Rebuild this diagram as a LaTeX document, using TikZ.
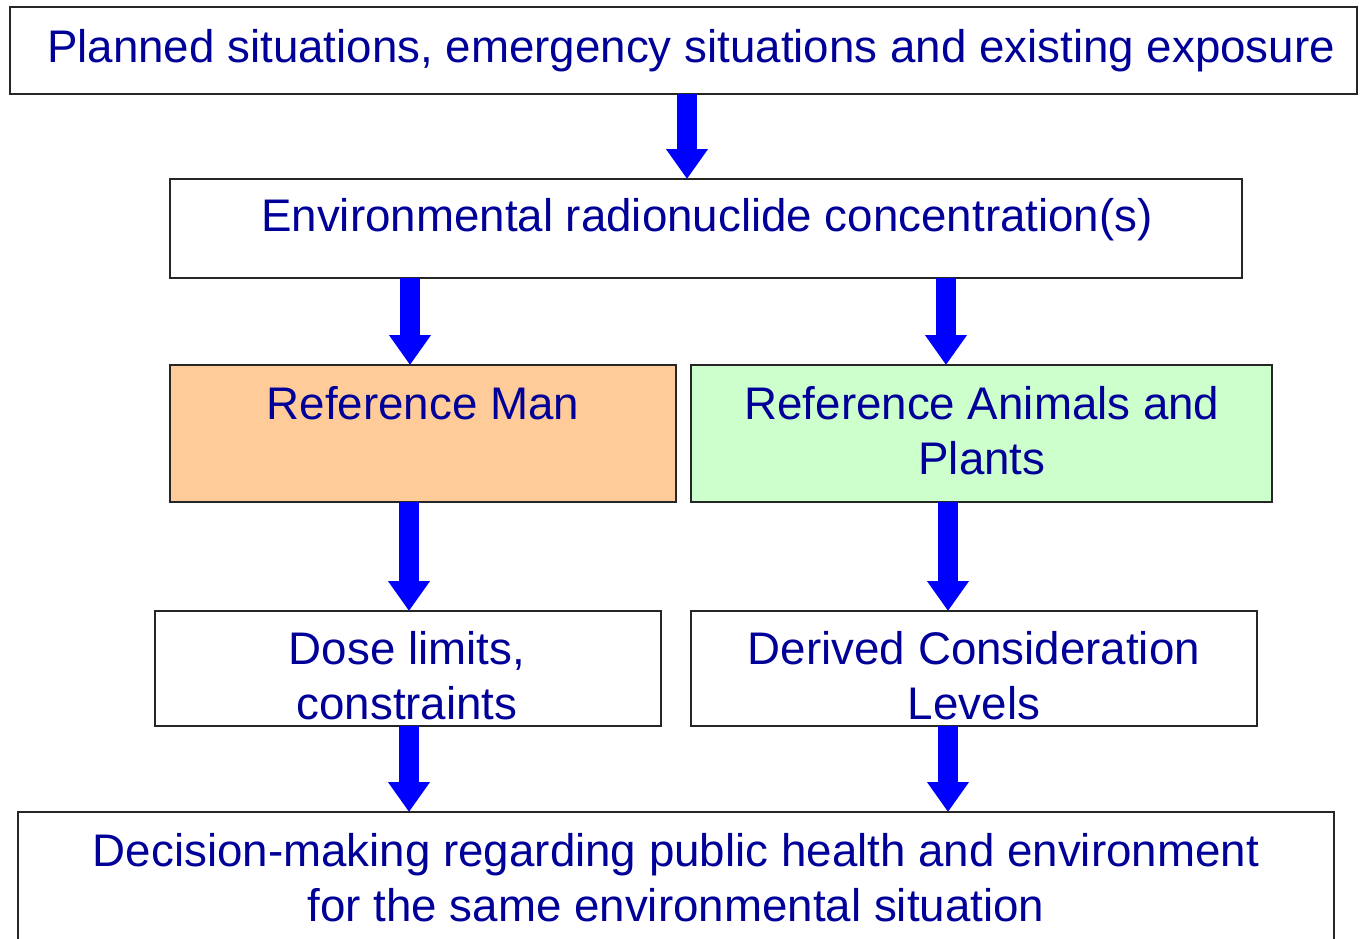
\documentclass[tikz,border=0pt]{standalone}
\usepackage{fontspec}
\setmainfont{Liberation Sans}
\usetikzlibrary{arrows.meta}
\definecolor{txtblue}{RGB}{0,0,153}
\definecolor{arrblue}{RGB}{0,0,255}
\definecolor{peach}{RGB}{255,204,153}
\definecolor{mint}{RGB}{204,255,204}
\tikzset{
  box/.style={draw=black!85, line width=0.75pt, inner sep=0pt, outer sep=0pt, rectangle},
  txt/.style={anchor=base, inner sep=0pt, text=txtblue, font=\fontsize{22.85}{27.5}\selectfont},
  barrow/.style={draw=arrblue, line width=10pt, -{Triangle[width=20pt,length=15pt]}, arrblue},
}
\begin{document}
\begin{tikzpicture}[x=0.5pt,y=-0.5pt]
\useasboundingbox (0,0) rectangle (1360,938);
\clip (0,0) rectangle (1360,938);
% boxes
\node[box, minimum width=673.5pt, minimum height=43.5pt] (top) at (683.5,50.5) {};
\node[box, minimum width=536pt, minimum height=49.5pt] (env) at (706,228.5) {};
\node[box, fill=peach, minimum width=253pt, minimum height=68.5pt] (man) at (423,433.5) {};
\node[box, fill=mint, minimum width=290.5pt, minimum height=68.5pt] (ani) at (981.5,433.5) {};
\node[box, minimum width=253pt, minimum height=57.5pt] (dose) at (408,668.5) {};
\node[box, minimum width=283pt, minimum height=57.5pt] (dcl) at (974,668.5) {};
\node[box, minimum width=658pt, minimum height=74pt] (dec) at (676,886) {};
% texts
\node[txt] (t1) at (691,62) {Planned situations, emergency situations and existing exposure};
\node[txt] (t2) at (707,231) {Environmental radionuclide concentration(s)};
\node[txt] (t3) at (423,419) {Reference Man};
\node[txt] (t4a) at (982,419) {Reference Animals and};
\node[txt] (t4b) at (982,474) {Plants};
\node[txt] (t5a) at (407,664) {Dose limits,};
\node[txt] (t5b) at (407,719) {constraints};
\node[txt] (t6a) at (974,664) {Derived Consideration};
\node[txt] (t6b) at (974,719) {Levels};
\node[txt] (t7a) at (676,866) {Decision-making regarding public health and environment};
\node[txt] (t7b) at (676,921) {for the same environmental situation};
% arrows
\draw[barrow] (top.south -| 687,0) -- (env.north -| 687,0);
\draw[barrow] (env.south -| 410,0) -- (man.north -| 410,0);
\draw[barrow] (env.south -| 946,0) -- (ani.north -| 946,0);
\draw[barrow] (man.south -| 409,0) -- (dose.north -| 409,0);
\draw[barrow] (ani.south -| 948,0) -- (dcl.north -| 948,0);
\draw[barrow] (dose.south -| 409,0) -- (dec.north -| 409,0);
\draw[barrow] (dcl.south -| 948,0) -- (dec.north -| 948,0);
\end{tikzpicture}
\end{document}
